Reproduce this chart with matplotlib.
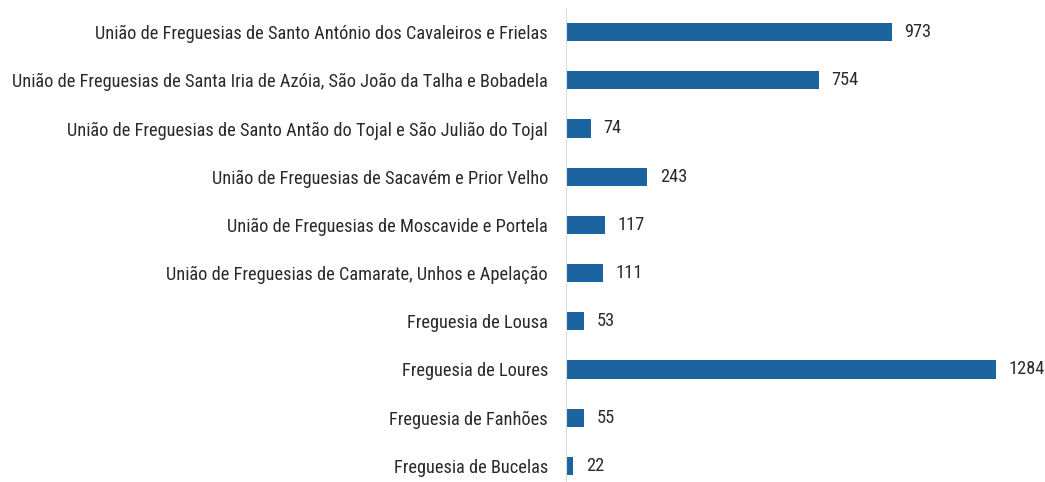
import matplotlib
matplotlib.use("Agg")
import matplotlib.pyplot as plt
from matplotlib import font_manager

names = {f.name for f in font_manager.fontManager.ttflist}
fam = next((n for n in ["Roboto Condensed", "Archivo Narrow", "PT Sans Narrow", "Liberation Sans"] if n in names), "DejaVu Sans")
plt.rcParams['font.family'] = [fam, 'DejaVu Sans']

categories = [
    "União de Freguesias de Santo António dos Cavaleiros e Frielas",
    "União de Freguesias de Santa Iria de Azóia, São João da Talha e Bobadela",
    "União de Freguesias de Santo Antão do Tojal e São Julião do Tojal",
    "União de Freguesias de Sacavém e Prior Velho",
    "União de Freguesias de Moscavide e Portela",
    "União de Freguesias de Camarate, Unhos e Apelação",
    "Freguesia de Lousa",
    "Freguesia de Loures",
    "Freguesia de Fanhões",
    "Freguesia de Bucelas",
]
values = [973, 754, 74, 243, 117, 111, 53, 1284, 55, 22]

fig = plt.figure(figsize=(10.45, 4.82), dpi=100)
ax = fig.add_axes([566/1045, 1 - 490/482, (1040-566)/1045, 482/482])
y = list(range(len(categories)))
ax.barh(y, values, height=0.375, color="#1b64a0")
ax.set_ylim(len(categories) - 0.5, -0.5)
ax.set_xlim(0, 1415)
ax.set_yticks(y)
labels = ax.set_yticklabels(categories, fontsize=12.5, color="#2a2a2a")
ax.tick_params(axis='y', length=0, pad=13)
ax.set_xticks([])
for s in ["top", "right", "bottom"]:
    ax.spines[s].set_visible(False)
ax.spines["left"].set_color("#dcdcdc")
ax.spines["left"].set_linewidth(0.8)

# fit font size so the widest label spans like the reference (~538 px)
r = fig.canvas.get_renderer()
w = max(t.get_window_extent(r).width for t in labels)
fs = 12.5 * 538 / w
for t in labels:
    t.set_fontsize(fs)

for yi, v in zip(y, values):
    ax.annotate(str(v), (v, yi), xytext=(9, 0), textcoords="offset points",
                va="center", ha="left", fontsize=fs, color="#2a2a2a")
fig.savefig("out.png", dpi=100)
